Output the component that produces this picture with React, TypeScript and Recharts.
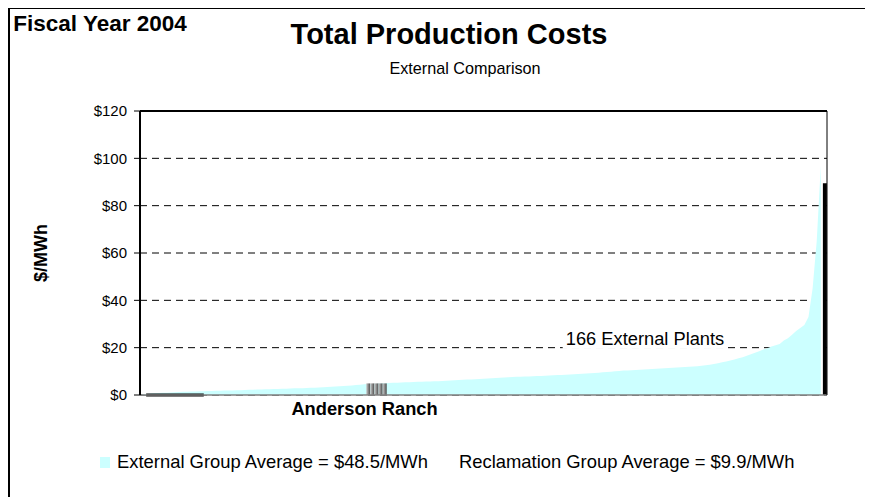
import {
  ComposedChart,
  Area,
  Bar,
  Line,
  XAxis,
  YAxis,
  CartesianGrid,
  ReferenceLine,
} from "recharts";

// 166 external plants, sorted ascending ($/MWh)
const externalCosts = [
  0.2, 0.4, 0.6, 0.7, 0.8, 0.9, 1.0, 1.1, 1.2, 1.3,
  1.35, 1.4, 1.45, 1.5, 1.55, 1.6, 1.65, 1.7, 1.75, 1.8,
  1.85, 1.9, 1.95, 2.0, 2.05, 2.1, 2.2, 2.25, 2.3, 2.35,
  2.4, 2.45, 2.5, 2.55, 2.6, 2.65, 2.7, 2.8, 2.85, 2.9,
  3.0, 3.05, 3.1, 3.2, 3.3, 3.4, 3.5, 3.6, 3.7, 3.8,
  3.9, 4.0, 4.2, 4.3, 4.5, 4.6, 4.7, 4.8, 4.9, 5.0,
  5.1, 5.15, 5.2, 5.3, 5.35, 5.4, 5.5, 5.55, 5.6, 5.7,
  5.75, 5.8, 5.85, 5.9, 6.0, 6.1, 6.2, 6.3, 6.4, 6.5,
  6.6, 6.7, 6.8, 6.9, 7.0, 7.1, 7.2, 7.3, 7.4, 7.5,
  7.6, 7.7, 7.75, 7.8, 7.85, 7.9, 8.0, 8.05, 8.1, 8.2,
  8.3, 8.4, 8.5, 8.6, 8.7, 8.8, 8.9, 9.0, 9.1, 9.2,
  9.3, 9.4, 9.6, 9.7, 9.8, 10.0, 10.1, 10.3, 10.4, 10.5,
  10.6, 10.7, 10.8, 10.9, 11.0, 11.1, 11.2, 11.3, 11.4, 11.5,
  11.6, 11.7, 11.8, 11.9, 12.0, 12.2, 12.4, 12.6, 12.8, 13.1,
  13.4, 13.8, 14.2, 14.6, 15.0, 15.5, 16.0, 16.6, 17.2, 17.8,
  18.5, 19.2, 19.8, 20.5, 21.0, 21.5, 23.0, 24.0, 25.5, 27.0,
  28.3, 29.6, 33.0, 45.0, 65.0, 97.0,
];

// Anderson Ranch highlight (5 slots), and the dark bars
const andersonStart = 55;
const andersonCosts = [4.9, 4.9, 4.9, 4.9, 4.9];
const highlightLabel = "Anderson Ranch";
const highlightTickSlot = 57;
const reclamationLow = [0, 0, 0, 0, 0, 0, 0, 0, 0, 0, 0, 0, 0, 0, 0];
const reclamationLowStart = 1;
const finalBar = 89.5;

const yTicks = [0, 20, 40, 60, 80, 100, 120];

const slotCount = externalCosts.length + 1;
const rows = Array.from({ length: slotCount }, (_, i) => {
  const a = i - andersonStart;
  const r = i - reclamationLowStart;
  return {
    name: i === highlightTickSlot ? highlightLabel : `P${i + 1}`,
    external: i < externalCosts.length ? externalCosts[i] : null,
    anderson: a >= 0 && a < andersonCosts.length ? andersonCosts[a] : null,
    dark: i === slotCount - 1 ? finalBar : null,
    low: r >= 0 && r < reclamationLow.length ? reclamationLow[r] : null,
  };
});

const font = "'Liberation Sans', Arial, sans-serif";

const HighlightTick = (props: any) => {
  const { x, y, payload } = props;
  if (payload.value !== highlightLabel) return null;
  return (
    <text
      x={x - 12}
      y={y + 12}
      textAnchor="middle"
      fontFamily={font}
      fontWeight="bold"
      fontSize={18.3}
      fill="#000"
    >
      {payload.value}
    </text>
  );
};

const centered = (left: number, top: number): any => ({
  position: "absolute",
  left,
  top,
  transform: "translate(-50%, -50%)",
  whiteSpace: "nowrap",
  lineHeight: 1,
});

export default function App() {
  return (
    <div style={{ position: "relative", width: 865, height: 489, fontFamily: font, color: "#000" }}>
      <ComposedChart
        width={865}
        height={489}
        data={rows}
        margin={{ top: 103, right: 45, bottom: 72, left: 10 }}
        barCategoryGap={0}
        barGap={0}
      >
        <defs>
          <linearGradient id="andersonFill" x1="0" y1="0" x2="1" y2="0">
            <stop offset="0%" stopColor="#c8c8c8" />
            <stop offset="100%" stopColor="#4a4a4a" />
          </linearGradient>
        </defs>
        <CartesianGrid
          yAxisId="left"
          horizontal
          vertical={false}
          stroke="#000"
          strokeDasharray="7 5"
        />
        <XAxis
          dataKey="name"
          interval={0}
          tickLine={false}
          axisLine={{ stroke: "#808080", strokeWidth: 1.5 }}
          tick={<HighlightTick />}
          height={30}
        />
        <YAxis
          yAxisId="left"
          domain={[0, 120]}
          ticks={yTicks}
          width={122}
          tickSize={6}
          tickMargin={7}
          tickFormatter={(v) => `$${v}`}
          tick={{ fill: "#000", fontSize: 15, fontFamily: font }}
          axisLine={{ stroke: "#000", strokeWidth: 2 }}
          tickLine={{ stroke: "#000" }}
        />
        <YAxis
          yAxisId="right"
          orientation="right"
          domain={[0, 120]}
          width={1}
          tick={false}
          tickLine={false}
          axisLine={{ stroke: "#000", strokeWidth: 1 }}
        />
        <ReferenceLine yAxisId="left" y={120} stroke="#000" strokeWidth={2} />
        <Area
          yAxisId="left"
          type="linear"
          dataKey="external"
          fill="#ccffff"
          fillOpacity={1}
          stroke="none"
          isAnimationActive={false}
        />
        <Bar
          yAxisId="left"
          dataKey="anderson"
          stackId="s"
          fill="url(#andersonFill)"
          isAnimationActive={false}
        />
        <Bar
          yAxisId="left"
          dataKey="dark"
          stackId="s"
          fill="#000"
          isAnimationActive={false}
        />
        <Line
          yAxisId="left"
          dataKey="low"
          stroke="#000"
          strokeWidth={3}
          dot={false}
          isAnimationActive={false}
        />
      </ComposedChart>

      <div style={{ position: "absolute", left: 0, top: -1, width: 865, height: 490, borderTop: "2px solid #000", borderLeft: "2px solid #000", boxSizing: "border-box", pointerEvents: "none" }} />

      <div style={{ ...centered(92, 16), fontSize: 22.5, fontWeight: "bold" }}>Fiscal Year 2004</div>
      <div style={{ ...centered(441, 26), fontSize: 29, fontWeight: "bold" }}>Total Production Costs</div>
      <div style={{ ...centered(457, 60), fontSize: 16.2 }}>External Comparison</div>
      <div style={{ ...centered(33, 245), transform: "translate(-50%, -50%) rotate(-90deg)", fontSize: 18, fontWeight: "bold" }}>$/MWh</div>
      <div style={{ ...centered(637, 331), fontSize: 18.3, background: "#fff", padding: "1px 3px" }}>166 External Plants</div>

      <div style={{ position: "absolute", left: 92, top: 445, display: "flex", alignItems: "center", fontSize: 18.4, lineHeight: 1, whiteSpace: "nowrap" }}>
        <span style={{ display: "inline-block", width: 10, height: 11, background: "#ccffff", marginRight: 7 }} />
        <span>External Group Average = $48.5/MWh</span>
        <span style={{ marginLeft: 31 }}>Reclamation Group Average = $9.9/MWh</span>
      </div>
    </div>
  );
}
